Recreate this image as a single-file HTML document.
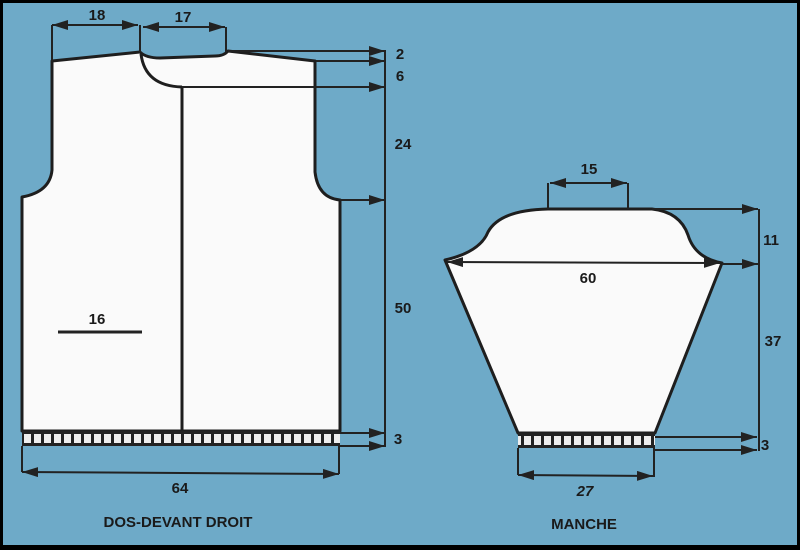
<!DOCTYPE html>
<html><head><meta charset="utf-8"><style>
html,body{margin:0;padding:0;background:#000}
svg{display:block}
text{font-family:"Liberation Sans",sans-serif;font-weight:bold;fill:#1a1a1a}
</style></head><body>
<svg width="800" height="550" viewBox="0 0 800 550" xmlns="http://www.w3.org/2000/svg">
<defs>
<marker id="b" viewBox="0 0 16 10" refX="16" refY="5" markerWidth="16" markerHeight="10" orient="auto-start-reverse" markerUnits="userSpaceOnUse"><path d="M0,0 L16,5 L0,10 z" fill="#222"/></marker>
<pattern id="rib" x="22" y="0" width="10" height="20" patternUnits="userSpaceOnUse"><rect width="10" height="20" fill="#222"/><rect x="2" y="0" width="7" height="20" fill="#eee"/></pattern>
</defs>
<rect x="3" y="3" width="794" height="542" fill="#6eaac8"/>
<g stroke="#1e1e1e" fill="#fafafa" stroke-width="3" stroke-linejoin="round">
<path d="M52,61 L140,52 Q146,58 160,58 L215,56 Q224,56 228,51 L315,61 L315,172 Q318,198 340,200 L340,431 L22,431 L22,197 Q50,192 52,170 Z"/>
<path d="M141,54 Q145,86 182,87" fill="none"/>
<path d="M548,209 L652,209 Q680,212 688,235 Q695,258 722,263 L655,433 L518,433 L445,260 Q480,252 488,232 Q500,210 548,209 Z"/>
</g>
<line x1="182" y1="87" x2="182" y2="431" stroke="#1e1e1e" stroke-width="3"/>
<rect x="22" y="431" width="318" height="15" fill="#222"/>
<rect x="22" y="434" width="318" height="9" fill="url(#rib)"/>
<rect x="518" y="433" width="137" height="15" fill="#222"/>
<rect x="518" y="436" width="137" height="9" fill="url(#rib)"/>
<g stroke="#222" stroke-width="2" fill="none">
<line x1="52" y1="61" x2="52" y2="25"/><line x1="140" y1="52" x2="140" y2="25"/><line x1="226" y1="52" x2="226" y2="27"/>
<line x1="52" y1="25" x2="138" y2="25" marker-start="url(#b)" marker-end="url(#b)"/>
<line x1="143" y1="27" x2="225" y2="27" marker-start="url(#b)" marker-end="url(#b)"/>
<line x1="228" y1="51" x2="385" y2="51" marker-end="url(#b)"/>
<line x1="316" y1="61" x2="385" y2="61" marker-end="url(#b)"/>
<line x1="182" y1="87" x2="385" y2="87" marker-end="url(#b)"/>
<line x1="340" y1="200" x2="385" y2="200" marker-end="url(#b)"/>
<line x1="340" y1="433" x2="385" y2="433" marker-end="url(#b)"/>
<line x1="340" y1="446" x2="385" y2="446" marker-end="url(#b)"/>
<line x1="385" y1="50" x2="385" y2="447"/>
<line x1="22" y1="446" x2="22" y2="472"/><line x1="339" y1="446" x2="339" y2="474"/>
<line x1="22" y1="472" x2="339" y2="474" marker-start="url(#b)" marker-end="url(#b)"/>
<line x1="58" y1="332" x2="142" y2="332" stroke-width="3"/>
<line x1="548" y1="209" x2="548" y2="183"/><line x1="628" y1="209" x2="628" y2="183"/>
<line x1="550" y1="183" x2="627" y2="183" marker-start="url(#b)" marker-end="url(#b)"/>
<line x1="652" y1="209" x2="758" y2="209" marker-end="url(#b)"/>
<line x1="447" y1="262" x2="720" y2="263" marker-start="url(#b)" marker-end="url(#b)"/>
<line x1="722" y1="264" x2="758" y2="264" marker-end="url(#b)"/>
<line x1="655" y1="437" x2="757" y2="437" marker-end="url(#b)"/>
<line x1="655" y1="450" x2="757" y2="450" marker-end="url(#b)"/>
<line x1="759" y1="209" x2="759" y2="451"/>
<line x1="518" y1="448" x2="518" y2="475"/><line x1="654" y1="448" x2="654" y2="477"/>
<line x1="518" y1="475" x2="653" y2="476" marker-start="url(#b)" marker-end="url(#b)"/>
</g>
<g font-size="15" text-anchor="middle">
<text x="97" y="20">18</text><text x="183" y="22">17</text>
<text x="400" y="59">2</text><text x="400" y="81">6</text>
<text x="403" y="149">24</text><text x="403" y="313">50</text>
<text x="398" y="444">3</text>
<text x="97" y="324">16</text>
<text x="180" y="493">64</text>
<text x="178" y="527">DOS-DEVANT DROIT</text>
<text x="589" y="174">15</text>
<text x="588" y="283">60</text>
<text x="771" y="245">11</text><text x="773" y="346">37</text><text x="765" y="450">3</text>
<text x="585" y="496" font-style="italic">27</text>
<text x="584" y="529">MANCHE</text>
</g>
</svg>
</body></html>
